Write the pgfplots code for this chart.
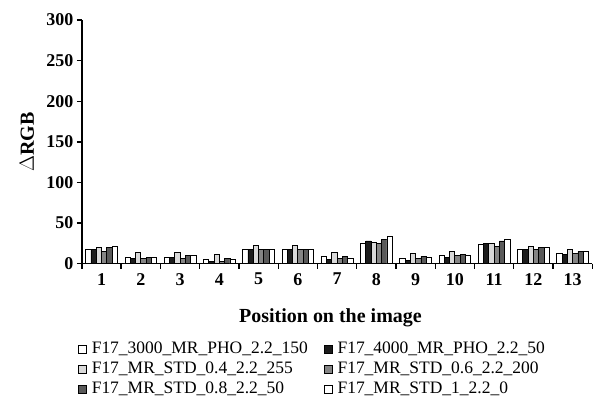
\documentclass[border=0pt]{standalone}
\usepackage{fontspec}
\setmainfont{Liberation Serif}
\usepackage{pgfplots}
\pgfplotsset{compat=1.18}

\definecolor{barblack}{HTML}{1C1C1C}
\definecolor{barlight}{HTML}{D9D9D9}
\definecolor{barmid}{HTML}{858585}
\definecolor{bardark}{HTML}{5A5A5A}

\pgfplotsset{
  sqlegend/.style={legend image code/.code={\draw[##1, line width=0.7pt] (0pt,-4pt) rectangle (8pt,4pt);}},
}

\begin{document}
\begin{tikzpicture}
\begin{axis}[
  scale only axis,
  width=511pt, height=244pt,
  clip=false,
  ybar=0pt, bar width=5.3pt,
  xmin=0.5, xmax=13.5,
  ymin=0, ymax=300,
  xtick={0.5,1.5,...,13.5},
  x tick label as interval,
  xticklabels={1,2,3,4,5,6,7,8,9,10,11,12,13},
  ytick={0,50,...,300},
  axis lines*=left,
  axis line style={line width=1.4pt},
  tick align=outside,
  major tick length=5pt,
  tick style={black, line width=1.4pt},
  tick label style={font=\bfseries\fontsize{18}{18}\selectfont},
  /pgf/number format/assume math mode=true,
  xticklabel style={yshift=-1pt},
  ylabel={$\Delta$RGB},
  ylabel style={font=\bfseries\fontsize{20}{20}\selectfont, at={(axis description cs:-0.108,0.5)}, anchor=center},
  xlabel={Position on the image},
  xlabel style={font=\bfseries\fontsize{20}{20}\selectfont, at={(axis description cs:0.487,-0.221)}, anchor=center},
  legend columns=2,
  legend cell align=left,
  legend style={at={(axis description cs:-0.0137,-0.311)}, anchor=north west,
    draw=none, fill=none, font=\fontsize{17.5}{17.5}\selectfont,
    nodes={inner sep=0pt, text height=12pt, text depth=4pt},
    row sep=4pt,
    /tikz/every odd column/.append style={column sep=5pt},
    /tikz/every even column/.append style={column sep=16pt}},
]
\addplot[draw=black, line width=0.8pt, fill=white, sqlegend] coordinates {(1,18)(2,8)(3,8)(4,5)(5,18)(6,18)(7,9)(8,25)(9,7)(10,10)(11,23.5)(12,17)(13,13)};
\addplot[draw=black, line width=0.8pt, fill=barblack, sqlegend] coordinates {(1,18)(2,6.5)(3,8)(4,3)(5,17)(6,17)(7,5)(8,28)(9,4.5)(10,7.5)(11,25)(12,17)(13,11)};
\addplot[draw=black, line width=0.8pt, fill=barlight, sqlegend] coordinates {(1,20)(2,14)(3,14)(4,11)(5,23)(6,23)(7,13.5)(8,26)(9,13)(10,15)(11,25)(12,21.5)(13,17)};
\addplot[draw=black, line width=0.8pt, fill=barmid, sqlegend] coordinates {(1,15)(2,6)(3,7)(4,3)(5,18)(6,18)(7,6.6)(8,25)(9,6.5)(10,10)(11,21.5)(12,17.5)(13,12.5)};
\addplot[draw=black, line width=0.8pt, fill=bardark, sqlegend] coordinates {(1,20)(2,8)(3,10.5)(4,6.5)(5,18)(6,18)(7,8.5)(8,29.5)(9,9)(10,11.5)(11,28)(12,20)(13,15)};
\addplot[draw=black, line width=0.8pt, fill=white, sqlegend] coordinates {(1,21.5)(2,8)(3,10.5)(4,5)(5,18)(6,18)(7,7)(8,34)(9,7.5)(10,10)(11,29.5)(12,20)(13,15)};
\legend{F17\_3000\_MR\_PHO\_2.2\_150, F17\_4000\_MR\_PHO\_2.2\_50,
  F17\_MR\_STD\_0.4\_2.2\_255, F17\_MR\_STD\_0.6\_2.2\_200,
  F17\_MR\_STD\_0.8\_2.2\_50, F17\_MR\_STD\_1\_2.2\_0}
% tick marks, drawn again so they show
\pgfplotsinvokeforeach{0,50,...,300}{
  \draw[line width=1.4pt] (axis cs:0.5,#1) -- ++(-5pt,0pt);
}
\pgfplotsinvokeforeach{0.5,1.5,...,13.5}{
  \draw[line width=1.4pt] (axis cs:#1,0) -- ++(0pt,-5pt);
}
\end{axis}
\path (-82pt,-143pt) rectangle (511pt,264pt);
\end{tikzpicture}
\end{document}
